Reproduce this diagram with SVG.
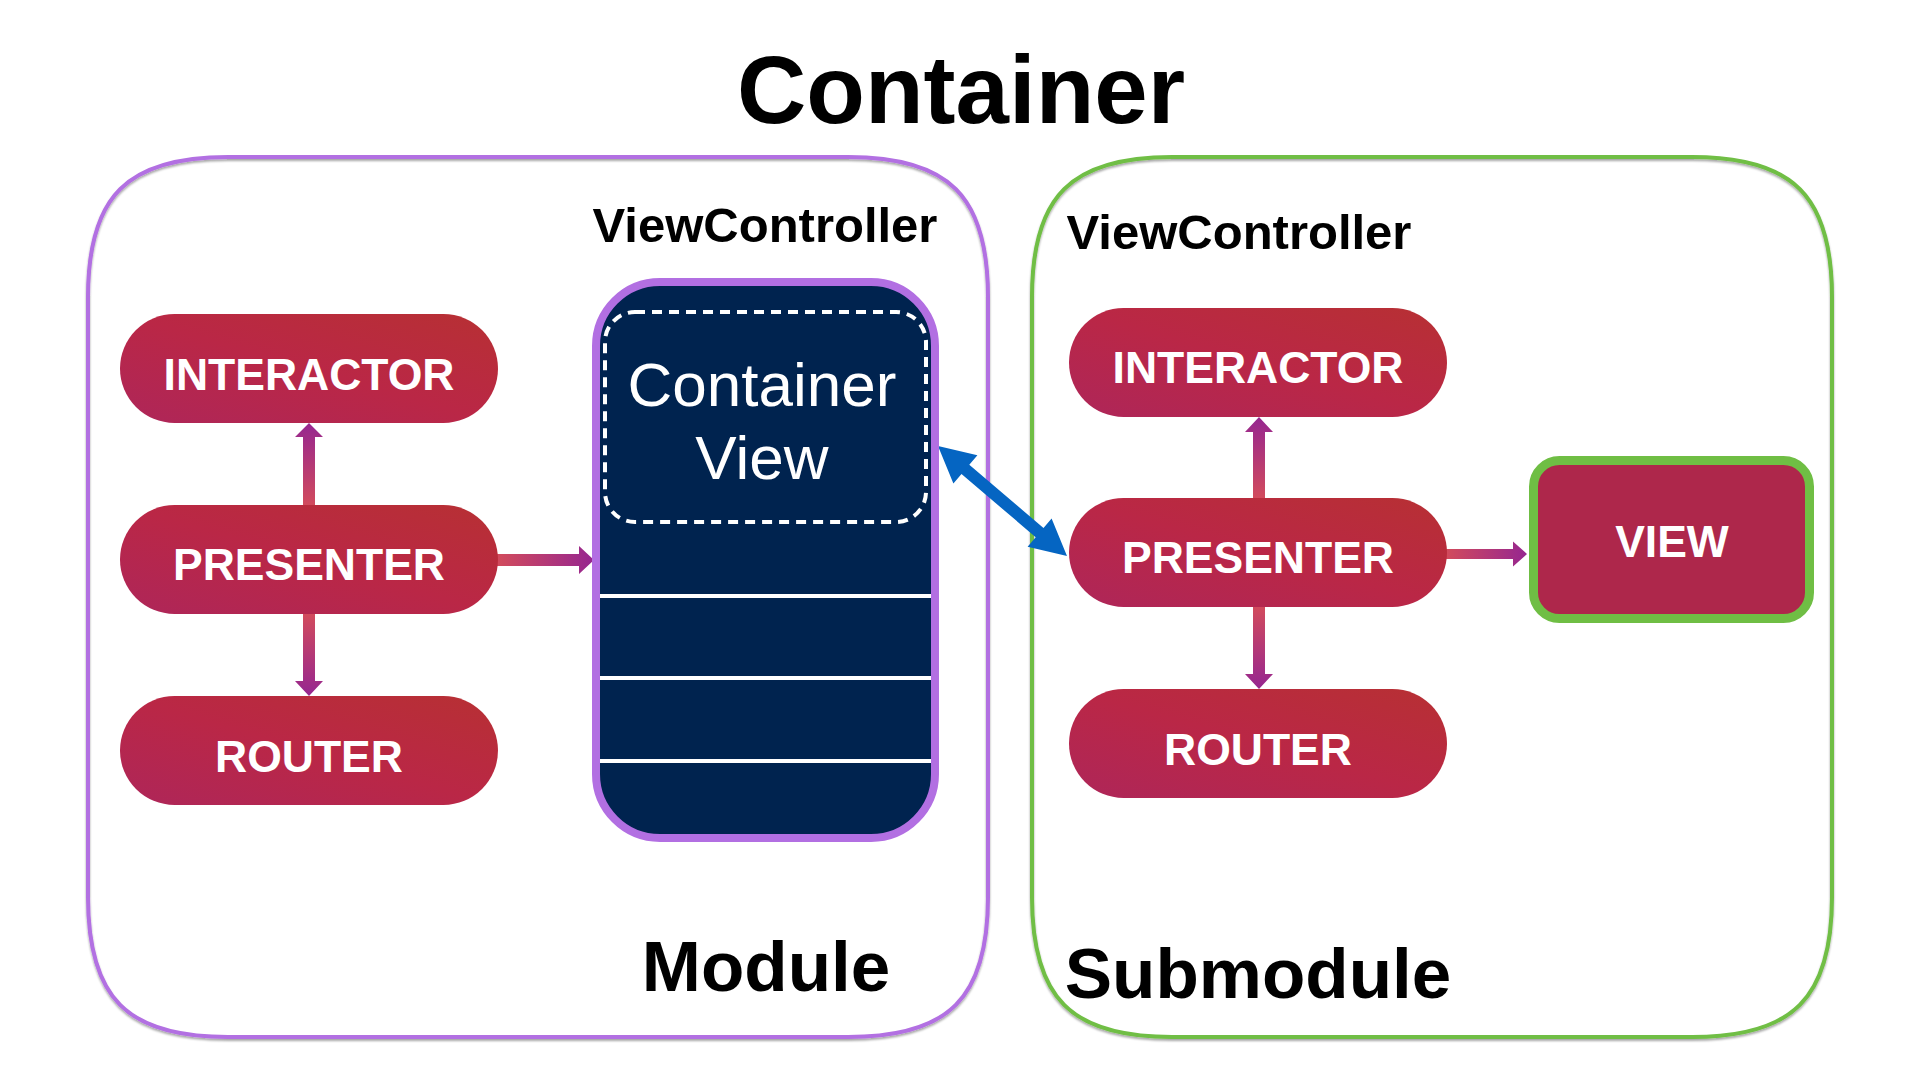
<svg xmlns="http://www.w3.org/2000/svg" width="1920" height="1080" viewBox="0 0 1920 1080">
  <defs>
    <linearGradient id="pillGrad" x1="0" y1="1" x2="1" y2="0">
      <stop offset="0" stop-color="#AE2659"/>
      <stop offset="0.5" stop-color="#BA2746"/>
      <stop offset="1" stop-color="#B73033"/>
    </linearGradient>
    <linearGradient id="gUp" x1="0" y1="1" x2="0" y2="0">
      <stop offset="0" stop-color="#D24B5C"/>
      <stop offset="1" stop-color="#962690"/>
    </linearGradient>
    <linearGradient id="gDown" x1="0" y1="0" x2="0" y2="1">
      <stop offset="0" stop-color="#D24B5C"/>
      <stop offset="1" stop-color="#962690"/>
    </linearGradient>
    <linearGradient id="gRight" x1="0" y1="0" x2="1" y2="0">
      <stop offset="0" stop-color="#D24B5C"/>
      <stop offset="1" stop-color="#962690"/>
    </linearGradient>
    <filter id="sh" x="-5%" y="-5%" width="110%" height="110%">
      <feDropShadow dx="0" dy="2" stdDeviation="1" flood-color="#000" flood-opacity="0.35"/>
    </filter>
  </defs>
  <style>
    .bold { font-family: "Liberation Sans", Arial, Helvetica, sans-serif; font-weight: bold; }
    .reg { font-family: "Liberation Sans", Arial, Helvetica, sans-serif; }
    .pill { fill: url(#pillGrad); }
    .pilltxt { fill: #ffffff; font-size: 44.5px; text-anchor: middle; }
    .outer { fill: none; stroke-width: 4; filter: url(#sh); }
    .label { fill: #000000; }
  </style>
  <rect width="1920" height="1080" fill="#ffffff"/>

  <text class="bold label" x="961" y="123" font-size="96" text-anchor="middle">Container</text>

  <g id="module">
    <path class="outer" stroke="#B26FE2" d="M228,157 H848 C949,157 988,196 988,297 V897 C988,998 949,1037 848,1037 H228 C127,1037 88,998 88,897 V297 C88,196 127,157 228,157 Z"/>
    <text class="bold label" x="766" y="991" font-size="71" text-anchor="middle">Module</text>
  </g>

  <g id="submodule">
    <path class="outer" stroke="#6FBE44" d="M1172,157 H1692 C1793,157 1832,196 1832,297 V897 C1832,998 1793,1037 1692,1037 H1172 C1071,1037 1032,998 1032,897 V297 C1032,196 1071,157 1172,157 Z"/>
    <text class="bold label" x="1258" y="998" font-size="71" text-anchor="middle">Submodule</text>
  </g>

  <g id="connectors">
    <path fill="url(#gUp)" d="M303,506 V437 H295 L309,423 L323,437 H315 V506 Z"/>
    <path fill="url(#gDown)" d="M303,613 V681 H295 L309,696 L323,681 H315 V613 Z"/>
    <path fill="url(#gRight)" d="M497,554 H579 V546 L594,560 L579,574 V566 H497 Z"/>
    <path fill="url(#gUp)" d="M1253,499 V432 H1245 L1259,417 L1273,432 H1265 V499 Z"/>
    <path fill="url(#gDown)" d="M1253,606 V674 H1245 L1259,689 L1273,674 H1265 V606 Z"/>
    <path fill="url(#gRight)" d="M1446,549 H1513 V541.5 L1527,554 L1513,566.5 V559 H1446 Z"/>
    <path fill="#0565C2" d="M938,446 L977.4,455.3 L969.3,464.8 L1043.5,528 L1051.6,518.5 L1067,556 L1027.6,546.7 L1035.7,537.2 L961.5,474 L953.4,483.5 Z"/>
  </g>

  <g id="module-interactor">
    <rect class="pill" x="120" y="314" width="378" height="109" rx="54.5"/>
    <text class="bold pilltxt" x="309" y="390">INTERACTOR</text>
  </g>
  <g id="module-presenter">
    <rect class="pill" x="120" y="505" width="378" height="109" rx="54.5"/>
    <text class="bold pilltxt" x="309" y="580">PRESENTER</text>
  </g>
  <g id="module-router">
    <rect class="pill" x="120" y="696" width="378" height="109" rx="54.5"/>
    <text class="bold pilltxt" x="309" y="772">ROUTER</text>
  </g>

  <g id="module-viewcontroller">
    <text class="bold label" x="765" y="242" font-size="49" text-anchor="middle">ViewController</text>
    <rect x="596" y="282" width="339" height="556" rx="64" fill="#00234F" stroke="#B26FE2" stroke-width="8"/>
    <rect x="605" y="312" width="321" height="210" rx="30" fill="none" stroke="#ffffff" stroke-width="4" stroke-dasharray="10 7"/>
    <text class="reg" x="762" y="406" font-size="62" fill="#ffffff" text-anchor="middle">Container</text>
    <text class="reg" x="762" y="479" font-size="62" fill="#ffffff" text-anchor="middle">View</text>
    <g stroke="#ffffff" stroke-width="4">
      <line x1="600" y1="596" x2="931" y2="596"/>
      <line x1="600" y1="678" x2="931" y2="678"/>
      <line x1="600" y1="761" x2="931" y2="761"/>
    </g>
  </g>

  <g id="submodule-viewcontroller">
    <text class="bold label" x="1239" y="249" font-size="49" text-anchor="middle">ViewController</text>
  </g>

  <g id="submodule-interactor">
    <rect class="pill" x="1069" y="308" width="378" height="109" rx="54.5"/>
    <text class="bold pilltxt" x="1258" y="383">INTERACTOR</text>
  </g>
  <g id="submodule-presenter">
    <rect class="pill" x="1069" y="498" width="378" height="109" rx="54.5"/>
    <text class="bold pilltxt" x="1258" y="573">PRESENTER</text>
  </g>
  <g id="submodule-router">
    <rect class="pill" x="1069" y="689" width="378" height="109" rx="54.5"/>
    <text class="bold pilltxt" x="1258" y="765">ROUTER</text>
  </g>
  <g id="submodule-view">
    <rect x="1533.5" y="460.5" width="276" height="158" rx="26" fill="#AE274B" stroke="#6FBE44" stroke-width="9"/>
    <text class="bold pilltxt" x="1672" y="557">VIEW</text>
  </g>
</svg>
